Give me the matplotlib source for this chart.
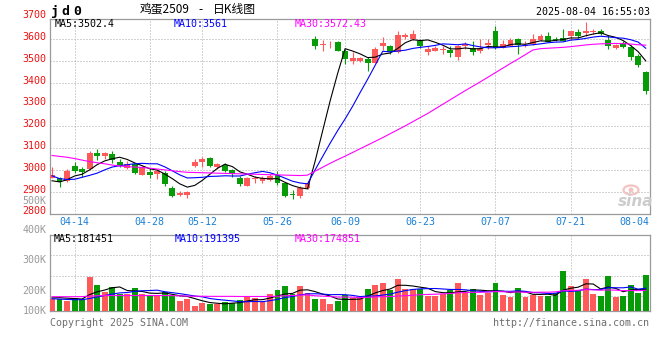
import matplotlib
matplotlib.use('Agg')
import matplotlib.pyplot as plt
from matplotlib.transforms import blended_transform_factory, offset_copy
from matplotlib.patches import Ellipse
import numpy as np

plt.rcParams['font.family'] = ['DejaVu Sans Mono', 'Noto Sans CJK SC']

# ---------------- data ----------------
dates_labels = ['04-14', '04-28', '05-12', '05-26', '06-09', '06-23', '07-07', '07-21', '08-04']
dates_index = [3, 13, 20, 30, 39, 49, 59, 69, 79]

opens = [2965, 2962, 2947, 3018, 3004, 3005, 3078, 3065, 3073, 3038,
         3008, 3025, 2978, 2992, 2983, 2985, 2916, 2884, 2886, 3020,
         3038, 3056, 3015, 3023, 3000, 2965, 2927, 2960, 2948, 2954,
         2975, 2940, 2889, 2881, 2915, 3598, 3572, 3573, 3585, 3546,
         3498, 3498, 3510, 3490, 3566, 3569, 3540, 3608, 3602, 3592,
         3541, 3546, 3552, 3551, 3516, 3567, 3561, 3546, 3573, 3636,
         3561, 3570, 3600, 3570, 3577, 3597, 3614, 3600, 3606, 3612,
         3634, 3626, 3632, 3638, 3595, 3557, 3580, 3563, 3522, 3450]
highs = [3012, 2966, 3003, 3035, 3015, 3087, 3098, 3080, 3088, 3050,
         3040, 3033, 3018, 3008, 3002, 2995, 2928, 2904, 2904, 3049,
         3060, 3060, 3032, 3032, 3005, 2972, 2967, 2970, 2972, 2980,
         2995, 2945, 2907, 2925, 2948, 3614, 3597, 3590, 3590, 3553,
         3540, 3518, 3517, 3562, 3610, 3574, 3638, 3630, 3642, 3598,
         3566, 3570, 3566, 3570, 3572, 3587, 3592, 3598, 3600, 3660,
         3595, 3605, 3607, 3590, 3622, 3622, 3632, 3608, 3645, 3638,
         3648, 3680, 3646, 3646, 3620, 3578, 3590, 3572, 3530, 3455]
lows = [2962, 2920, 2945, 2985, 2968, 3000, 3047, 3048, 3030, 3015,
        3003, 2983, 2975, 2962, 2960, 2928, 2877, 2878, 2871, 3015,
        3013, 3015, 3005, 2990, 2966, 2925, 2926, 2940, 2940, 2950,
        2930, 2874, 2868, 2870, 2912, 3553, 3545, 3558, 3543, 3487,
        3487, 3495, 3455, 3488, 3552, 3530, 3538, 3598, 3595, 3558,
        3528, 3544, 3532, 3520, 3502, 3555, 3527, 3535, 3555, 3556,
        3557, 3566, 3532, 3565, 3572, 3592, 3585, 3590, 3589, 3596,
        3606, 3612, 3622, 3619, 3555, 3555, 3557, 3503, 3470, 3347]
closes = [2975, 2945, 2997, 2993, 2990, 3077, 3065, 3078, 3047, 3023,
          3025, 2985, 3015, 2975, 2993, 2937, 2882, 2892, 2900, 3034,
          3052, 3020, 3027, 2996, 2980, 2933, 2965, 2962, 2965, 2970,
          2938, 2882, 2885, 2916, 2942, 3570, 3578, 3575, 3547, 3510,
          3515, 3513, 3490, 3555, 3583, 3541, 3617, 3620, 3622, 3567,
          3555, 3561, 3555, 3537, 3568, 3576, 3541, 3560, 3584, 3560,
          3577, 3595, 3575, 3574, 3600, 3615, 3588, 3594, 3592, 3636,
          3614, 3638, 3636, 3621, 3570, 3575, 3564, 3519, 3482, 3362]

ma5 = [2950, 2945, 2955, 2972, 2980, 3000, 3024, 3041, 3051, 3058,
       3048, 3032, 3019, 3005, 2999, 2981, 2960, 2936, 2921, 2929,
       2952, 2980, 3007, 3026, 3015, 2991, 2980, 2967, 2961, 2959,
       2960, 2943, 2928, 2918, 2913, 3039, 3178, 3316, 3442, 3556,
       3545, 3532, 3515, 3517, 3531, 3536, 3557, 3583, 3597, 3593,
       3596, 3585, 3572, 3555, 3555, 3559, 3555, 3556, 3566, 3564,
       3564, 3575, 3578, 3576, 3584, 3592, 3590, 3594, 3598, 3605,
       3605, 3615, 3623, 3629, 3616, 3608, 3593, 3570, 3542, 3500]
ma10 = [2973, 2960, 2956, 2957, 2966, 2975, 2985, 3000, 3013, 3019,
        3024, 3028, 3030, 3028, 3028, 3014, 2996, 2977, 2963, 2964,
        2966, 2970, 2971, 2973, 2972, 2972, 2980, 2987, 2993, 2987,
        2976, 2962, 2948, 2940, 2936, 3000, 3061, 3122, 3180, 3234,
        3292, 3355, 3416, 3480, 3544, 3541, 3545, 3549, 3557, 3562,
        3566, 3571, 3578, 3576, 3574, 3578, 3570, 3564, 3560, 3560,
        3562, 3565, 3567, 3571, 3574, 3578, 3583, 3586, 3587, 3595,
        3598, 3603, 3609, 3613, 3610, 3606, 3604, 3597, 3586, 3558]
ma30 = [3066, 3062, 3058, 3052, 3045, 3038, 3033, 3028, 3022, 3018,
        3015, 3013, 3011, 3008, 3004, 3000, 2996, 2992, 2989, 2988,
        2987, 2986, 2985, 2984, 2983, 2982, 2981, 2980, 2979, 2978,
        2977, 2976, 2975, 2974, 2976, 2994, 3012, 3030, 3047, 3063,
        3080, 3097, 3114, 3131, 3148, 3166, 3184, 3202, 3221, 3240,
        3259, 3280, 3301, 3322, 3343, 3364, 3384, 3404, 3425, 3446,
        3467, 3488, 3508, 3529, 3550, 3556, 3558, 3560, 3562, 3565,
        3569, 3573, 3576, 3578, 3579, 3580, 3579, 3577, 3574, 3572]

volume_k = [103, 103, 88, 109, 103, 288, 218, 162, 202, 140,
            140, 196, 140, 134, 132, 160, 132, 84, 103, 42,
            70, 56, 56, 76, 70, 92, 126, 112, 76, 140,
            176, 210, 140, 210, 154, 103, 103, 61, 84, 132,
            112, 112, 185, 218, 233, 176, 269, 185, 185, 185,
            129, 129, 140, 176, 233, 149, 185, 134, 149, 233,
            134, 120, 191, 120, 134, 129, 129, 149, 336, 210,
            176, 269, 143, 126, 294, 120, 126, 218, 149, 302]
vol_ma5_k = [110, 112, 108, 104, 101, 138, 161, 176, 195, 202,
             172, 168, 164, 150, 148, 152, 140, 128, 122, 104,
             86, 71, 65, 60, 66, 70, 84, 95, 95, 109,
             126, 143, 148, 175, 178, 163, 142, 126, 101, 97,
             98, 100, 125, 152, 172, 185, 216, 216, 210, 200,
             191, 163, 154, 152, 161, 165, 177, 175, 170, 170,
             167, 154, 165, 160, 140, 139, 141, 132, 175, 191,
             200, 228, 227, 185, 202, 190, 162, 177, 181, 183]
vol_ma10_k = [103, 100, 97, 95, 95, 105, 118, 130, 142, 152,
              155, 165, 170, 172, 175, 162, 154, 146, 136, 126,
              119, 105, 97, 91, 85, 78, 78, 80, 78, 87,
              98, 113, 122, 135, 144, 145, 142, 137, 138, 137,
              131, 121, 126, 126, 134, 142, 158, 171, 181, 186,
              188, 189, 185, 181, 181, 178, 170, 165, 161, 166,
              166, 165, 170, 165, 155, 153, 147, 149, 168, 165,
              169, 184, 180, 180, 196, 195, 195, 202, 183, 192]
vol_ma30_k = [120, 120, 120, 120, 121, 125, 128, 130, 130, 130,
              130, 130, 130, 130, 130, 130, 129, 127, 125, 124,
              124, 123, 123, 123, 123, 122, 122, 122, 122, 122,
              124, 128, 130, 133, 135, 128, 125, 121, 117, 117,
              116, 113, 115, 118, 121, 121, 126, 129, 132, 137,
              139, 141, 144, 147, 153, 155, 157, 157, 160, 163,
              162, 159, 160, 157, 157, 158, 158, 161, 170, 172,
              174, 180, 178, 175, 177, 175, 171, 172, 171, 174]

price_ticks = [2800, 2900, 3000, 3100, 3200, 3300, 3400, 3500, 3600, 3700]
vol_tick_labels = ['500K', '400K', '300K', '200K', '100K']

legend_main = [('MA5:3502.4', 'black'), ('MA10:3561', '#0000ff'), ('MA30:3572.43', '#ff00ff')]
legend_vol = [('MA5:181451', 'black'), ('MA10:191395', '#0000ff'), ('MA30:174851', '#ff00ff')]
title_name = '鸡蛋2509'
title_kind = '日K线图'
symbol = 'jd0'
timestamp = '2025-08-04 16:55:03'

# ---------------- layout ----------------
W, H = 660, 360
fig = plt.figure(figsize=(W / 100, H / 100), dpi=100)
fig.patch.set_facecolor('white')


def rect(l, t, r, b):
    return [l / W, 1 - b / H, (r - l) / W, (b - t) / H]


def fpos(xp, yp):
    return xp / W, 1 - yp / H


ax = fig.add_axes(rect(50, 19, 649.5, 213.5))
axv = fig.add_axes(rect(50, 235, 649.5, 311))

o = np.array(opens, float)
c = np.array(closes, float)
h = np.array(highs, float)
l = np.array(lows, float)
x = np.arange(len(c))
RED = '#ff5a5a'
GREEN = '#079c07'
col = np.where(c >= o, RED, GREEN)

GRID = '#a9a9a9'
SPINE = '#9a9a9a'
DOT = (0, (1, 2))

for a in (ax, axv):
    a.set_xlim(-0.27, 79.5)
    a.set_xticks([])
    a.set_yticks([])
    for s in a.spines.values():
        s.set_color(SPINE)
        s.set_linewidth(0.9)
    for d in dates_index[:-1]:
        a.axvline(d, color=GRID, lw=0.72, ls=DOT, zorder=1)

# main panel
ax.set_ylim(2800, 3692)
for p in price_ticks[1:-1]:
    ax.axhline(p, color=GRID, lw=0.72, ls=DOT, zorder=1)

ax.vlines(x, l, h, colors=col, lw=0.8, zorder=3)
ax.bar(x, np.maximum(np.abs(c - o), 1.8), bottom=np.minimum(o, c), width=0.78,
       color=col, lw=0, zorder=4)
ax.plot(x, ma5, color='black', lw=0.8, zorder=5)
ax.plot(x, ma10, color='#0000ff', lw=0.8, zorder=5)
ax.plot(x, ma30, color='#ff00ff', lw=0.8, zorder=5)

ylab_tr = offset_copy(blended_transform_factory(ax.transAxes, ax.transData), fig=fig,
                      x=-3.5, y=2, units='dots')
for p in price_ticks:
    ax.text(0, p, str(p), transform=ylab_tr, ha='right', va='center', color='#ee1111',
            fontsize=7.2, clip_on=False)

xlab_tr = offset_copy(blended_transform_factory(ax.transData, ax.transAxes), fig=fig,
                      x=0, y=-8.5, units='dots')
xlab_tr_edge = offset_copy(ax.transAxes, fig=fig, x=0, y=-8.5, units='dots')
for d, lab in zip(dates_index, dates_labels):
    if d == dates_index[-1]:
        ax.text(1.0, 0, lab, transform=xlab_tr_edge, ha='right', va='center',
                color='#1a80d6', fontsize=7.2, clip_on=False)
    else:
        ax.text(d, 0, lab, transform=xlab_tr, ha='center', va='center',
                color='#1a80d6', fontsize=7.2, clip_on=False)

for (txt, cc), xp in zip(legend_main, [55, 174, 295]):
    fig.text(*fpos(xp, 24), txt, color=cc, fontsize=7.2, ha='left', va='center')

# watermark (sina logo)
eye = Ellipse(fpos(631, 190), 15 / W, 9 / H, transform=fig.transFigure,
              facecolor='none', edgecolor='#f3c4c4', lw=1.6, zorder=2)
fig.patches.append(eye)
eye_dot = Ellipse(fpos(631, 190), 5 / W, 5 / H, transform=fig.transFigure,
                  facecolor='#f3c4c4', edgecolor='none', zorder=2)
fig.patches.append(eye_dot)
fig.text(*fpos(636, 201), 'sina', color='#cccccc', fontsize=11, style='italic',
         weight='bold', family='DejaVu Sans', ha='center', va='center')

# volume panel
v = np.array(volume_k, float) * 1000
axv.set_ylim(0, 638400)
for g in [126000, 296500, 468000]:
    axv.axhline(g, color=GRID, lw=0.72, ls=DOT, zorder=1)
axv.bar(x, v, width=0.78, color=col, lw=0, zorder=3)
axv.plot(x, np.array(vol_ma5_k) * 1000, color='black', lw=0.8, zorder=5)
axv.plot(x, np.array(vol_ma10_k) * 1000, color='#0000ff', lw=0.8, zorder=5)
axv.plot(x, np.array(vol_ma30_k) * 1000, color='#ff00ff', lw=0.8, zorder=5)

for (txt, cc), xp in zip(legend_vol, [54, 175, 295]):
    fig.text(*fpos(xp, 239), txt, color=cc, fontsize=7.2, ha='left', va='center')

for lab, yp in zip(vol_tick_labels, [200.5, 230, 260, 290.5, 311.5]):
    fig.text(*fpos(46.5, yp), lab, color='#9a9a9a', fontsize=7.2, ha='right', va='center')

# header
for ch, xp in zip(symbol, [54, 65, 77.5]):
    fig.text(*fpos(xp, 15), ch, fontsize=9.5, weight='bold', ha='center', va='baseline',
             color='black')
fig.text(*fpos(140, 9.5), title_name, family=['Noto Sans CJK SC'], fontsize=8.5,
         ha='left', va='center', color='black')
fig.text(*fpos(200.8, 9.5), '-', family=['Noto Sans CJK SC'], fontsize=8.5,
         ha='center', va='center', color='black')
fig.text(*fpos(212.5, 9.5), title_kind, family=['Noto Sans CJK SC'], fontsize=8.5,
         ha='left', va='center', color='black')
fig.text(*fpos(649.5, 12), timestamp, fontsize=7.2, ha='right', va='center', color='black')

# footer
fig.text(*fpos(50, 323.5), 'Copyright 2025 SINA.COM', fontsize=7.2, color='#6e6e6e',
         ha='left', va='center')
fig.text(*fpos(649.5, 323.5), 'http://finance.sina.com.cn', fontsize=7.2, color='#6e6e6e',
         ha='right', va='center')

fig.savefig('out.png', dpi=100, facecolor='white')
